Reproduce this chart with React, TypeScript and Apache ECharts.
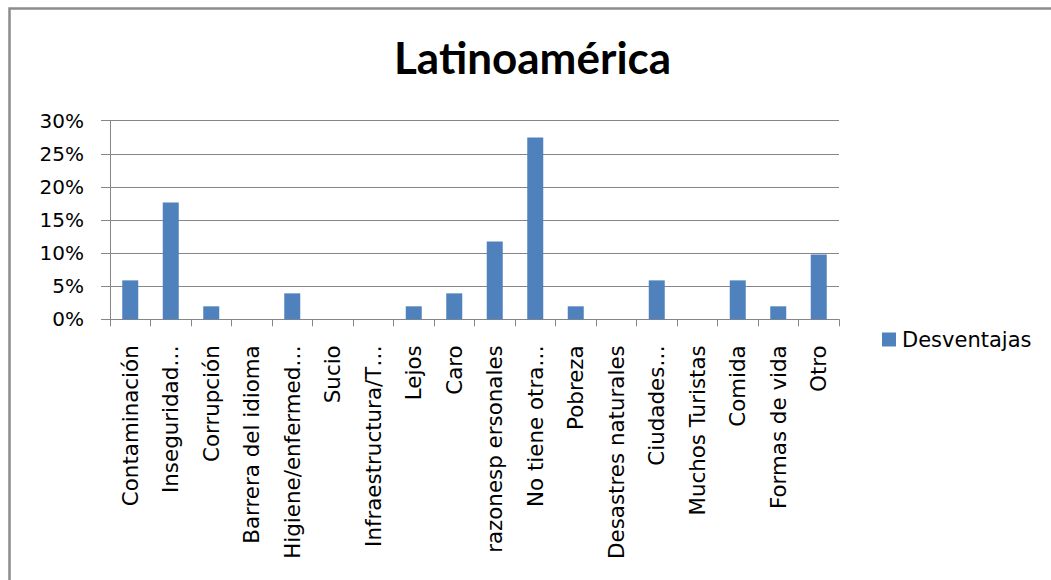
import React, { useEffect, useRef } from "react";
import * as echarts from "echarts";

// Category labels as they appear under the axis (long ones shortened with an ellipsis)
const categories: string[] = [
  "Contaminación",
  "Inseguridad…",
  "Corrupción",
  "Barrera del idioma",
  "Higiene/enfermed…",
  "Sucio",
  "Infraestructura/T…",
  "Lejos",
  "Caro",
  "razonesp ersonales",
  "No tiene otra…",
  "Pobreza",
  "Desastres naturales",
  "Ciudades…",
  "Muchos Turistas",
  "Comida",
  "Formas de vida",
  "Otro",
];

// Share of answers per disadvantage, in percent
const desventajas: number[] = [
  5.88, 17.65, 1.96, 0, 3.92, 0, 0, 1.96, 3.92, 11.76, 27.45, 1.96, 0, 5.88, 0, 5.88, 1.96, 9.8,
];

const yTicks = { min: 0, max: 30, interval: 5 };

const FONT = "'DejaVu Sans', sans-serif";
const TITLE_FONT = "Lato, 'DejaVu Sans', sans-serif";
const GRAY = "#868686";

export default function App() {
  const ref = useRef<HTMLDivElement>(null);

  useEffect(() => {
    if (!ref.current) return;
    const chart = echarts.init(ref.current, undefined, { renderer: "svg" });
    chart.setOption({
      animation: false,
      backgroundColor: "#ffffff",
      title: {
        text: "Latinoamérica",
        left: 394,
        top: 32,
        padding: 0,
        textStyle: {
          fontFamily: TITLE_FONT,
          fontSize: 44,
          fontWeight: "bold",
          color: "#000",
          lineHeight: 50,
        },
      },
      legend: {
        data: ["Desventajas"],
        left: 882,
        top: 329,
        padding: 0,
        itemWidth: 14,
        itemHeight: 14,
        itemGap: 6,
        icon: "rect",
        textStyle: { fontFamily: FONT, fontSize: 21, color: "#000", padding: [0, 0, 0, 1] },
      },
      grid: { left: 110, right: 212, top: 120.7, bottom: 260.7, containLabel: false },
      xAxis: {
        type: "category",
        data: categories,
        axisLine: { show: true, lineStyle: { color: GRAY, width: 1 } },
        axisTick: { show: true, length: 7, lineStyle: { color: GRAY } },
        axisLabel: {
          interval: 0,
          rotate: 90,
          margin: 26,
          fontFamily: FONT,
          fontSize: 21.4,
          color: "#000",
        },
      },
      yAxis: {
        type: "value",
        min: yTicks.min,
        max: yTicks.max,
        interval: yTicks.interval,
        axisLine: { show: true, lineStyle: { color: GRAY, width: 1 } },
        axisTick: { show: true, length: 9, lineStyle: { color: GRAY } },
        splitLine: { show: true, lineStyle: { color: GRAY, width: 1 } },
        axisLabel: {
          formatter: "{value}%",
          margin: 26,
          fontFamily: FONT,
          fontSize: 20,
          color: "#000",
        },
      },
      series: [
        {
          name: "Desventajas",
          type: "bar",
          data: desventajas,
          barWidth: 16,
          itemStyle: { color: "#4F81BD" },
        },
      ],
      graphic: [
        {
          type: "rect",
          shape: { x: 9.5, y: 8.5, width: 1200, height: 800 },
          style: { fill: "none", stroke: "#8c8c8c", lineWidth: 2.5 },
          silent: true,
        },
      ],
    });
    return () => chart.dispose();
  }, []);

  return (
    <div
      ref={ref}
      style={{ position: "fixed", left: 0, top: 0, width: 1051, height: 580 }}
    />
  );
}
